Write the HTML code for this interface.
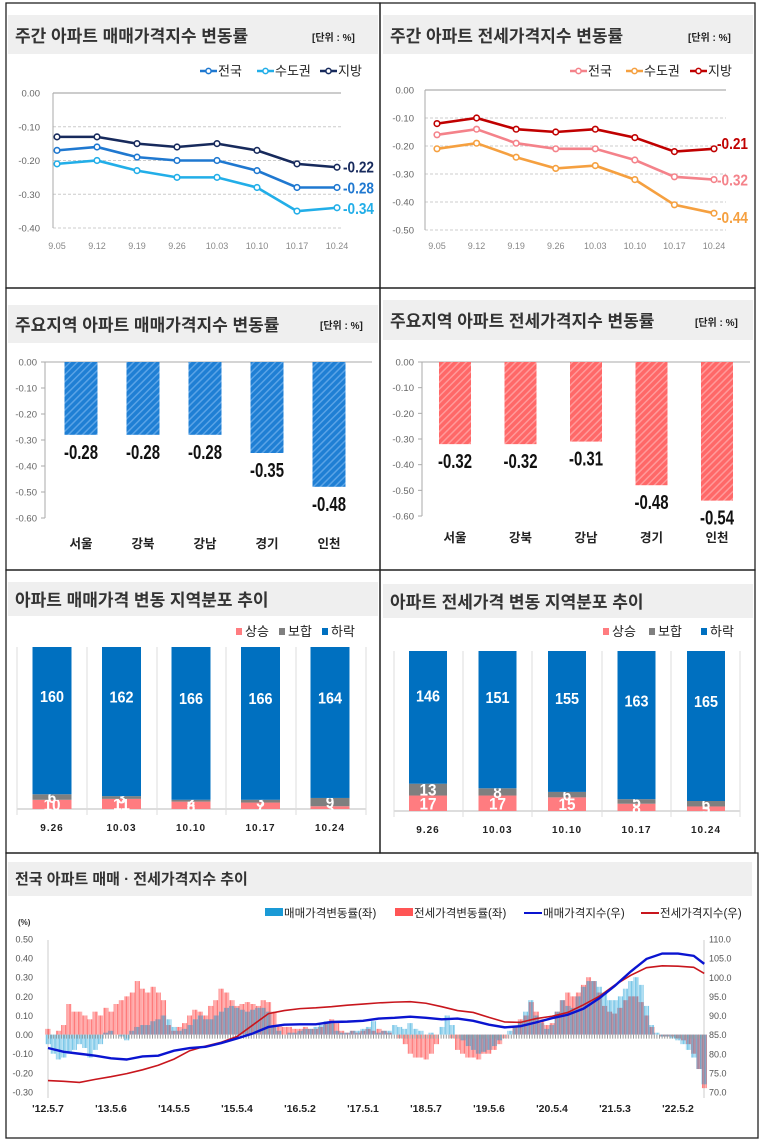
<!DOCTYPE html>
<html><head><meta charset="utf-8">
<style>
html,body{margin:0;padding:0;background:#fff;}
svg{display:block;font-family:"Liberation Sans","Noto Sans CJK KR",sans-serif;}
.t{font-size:17px;fill:#333;font-weight:bold;}
.u{font-size:10px;fill:#222;font-weight:bold;}
.ax{font-size:9.5px;fill:#666;}
.lg{font-size:12px;fill:#222;}
.vl{font-family:"Liberation Sans",sans-serif;font-weight:bold;}
</style></head><body>
<svg id="root" width="761" height="1144" viewBox="0 0 761 1144">
<defs>
<pattern id="hb" width="5" height="5" patternUnits="userSpaceOnUse" patternTransform="rotate(45)"><rect width="5" height="5" fill="#1f7fd4"/><rect width="1.5" height="5" fill="#5aa3e6"/></pattern>
<pattern id="hr" width="5" height="5" patternUnits="userSpaceOnUse" patternTransform="rotate(45)"><rect width="5" height="5" fill="#ff6868"/><rect width="1.5" height="5" fill="#ff9a9a"/></pattern>
<pattern id="sr" width="1.3" height="4" patternUnits="userSpaceOnUse"><rect width="0.8" height="4" fill="rgba(255,70,70,0.85)"/></pattern>
<pattern id="sb" width="1.3" height="4" patternUnits="userSpaceOnUse" x="0.6"><rect width="0.7" height="4" fill="rgba(30,160,215,0.8)"/></pattern>
</defs>
<g fill="none" stroke="#222" stroke-width="1.3">
<rect x="6" y="3" width="374" height="285"/><rect x="380" y="3" width="375" height="285"/>
<rect x="6" y="288" width="374" height="282"/><rect x="380" y="288" width="375" height="282"/>
<rect x="6" y="570" width="374" height="283"/><rect x="380" y="570" width="375" height="283"/>
<rect x="6" y="853" width="752" height="285"/>
</g>
<g fill="#efefef">
<rect x="8" y="15" width="370" height="39"/><rect x="383" y="15" width="370" height="39"/>
<rect x="8" y="305" width="370" height="38"/><rect x="383" y="300" width="370" height="40"/>
<rect x="8" y="582" width="370" height="34"/><rect x="383" y="584" width="370" height="34"/>
<rect x="8" y="862" width="744" height="34"/>
</g>
<text class="t" x="15" y="42">주간 아파트 매매가격지수 변동률</text>
<text class="u" x="312" y="41">[단위 : %]</text>
<text class="t" x="390" y="42">주간 아파트 전세가격지수 변동률</text>
<text class="u" x="688" y="41">[단위 : %]</text>
<text class="t" x="15" y="331">주요지역 아파트 매매가격지수 변동률</text>
<text class="u" x="320" y="329">[단위 : %]</text>
<text class="t" x="390" y="327">주요지역 아파트 전세가격지수 변동률</text>
<text class="u" x="695" y="326">[단위 : %]</text>
<text class="t" x="15" y="606">아파트 매매가격 변동 지역분포 추이</text>
<text class="t" x="390" y="608">아파트 전세가격 변동 지역분포 추이</text>
<text class="t" x="15" y="884" style="font-size:15px">전국 아파트 매매 · 전세가격지수 추이</text>
<g id="c1"></g>
<g id="c2"></g>
<g id="c3"></g>
<g id="c4"></g>
<g id="c5"></g>
<g id="c6"></g>
<g id="c7"></g>
</svg>
<script>
const NS='http://www.w3.org/2000/svg';
const weeks=['9.05','9.12','9.19','9.26','10.03','10.10','10.17','10.24'];
const saleNation=[-0.17,-0.16,-0.19,-0.20,-0.20,-0.23,-0.28,-0.28];
const saleCapital=[-0.21,-0.20,-0.23,-0.25,-0.25,-0.28,-0.35,-0.34];
const saleLocal=[-0.13,-0.13,-0.15,-0.16,-0.15,-0.17,-0.21,-0.22];
const jeonseNation=[-0.16,-0.14,-0.19,-0.21,-0.21,-0.25,-0.31,-0.32];
const jeonseCapital=[-0.21,-0.19,-0.24,-0.28,-0.27,-0.32,-0.41,-0.44];
const jeonseLocal=[-0.12,-0.10,-0.14,-0.15,-0.14,-0.17,-0.22,-0.21];
const ticks1=[0,-0.1,-0.2,-0.3,-0.4];
const ticks2=[0,-0.1,-0.2,-0.3,-0.4,-0.5];
const regions=['서울','강북','강남','경기','인천'];
const regionSale=[-0.28,-0.28,-0.28,-0.35,-0.48];
const regionJeonse=[-0.32,-0.32,-0.31,-0.48,-0.54];
const ticks3=[0,-0.1,-0.2,-0.3,-0.4,-0.5,-0.6];
const distWeeks=['9.26','10.03','10.10','10.17','10.24'];
const saleUp=[10,11,8,7,3];
const saleFlat=[6,3,2,3,9];
const saleDown=[160,162,166,166,164];
const jeonseUp=[17,17,15,8,5];
const jeonseFlat=[13,8,6,5,6];
const jeonseDown=[146,151,155,163,165];
const monthlySaleRate=[
-0.05,-0.10,-0.13,-0.12,-0.10,-0.08,-0.05,-0.07,
-0.12,-0.08,-0.05,0.01,0.02,0.00,-0.01,-0.03,0.02,0.04,0.05,0.05,
0.07,0.08,0.10,0.08,0.04,0.02,0.03,0.05,0.08,0.10,0.08,0.08,
0.10,0.12,0.14,0.15,0.14,0.13,0.12,0.13,0.14,0.14,0.12,0.05,
0.02,0.00,0.01,0.01,0.02,0.03,0.03,0.04,0.05,0.07,0.06,0.02,
0.01,0.01,0.02,0.02,0.03,0.04,0.07,0.01,0.02,0.02,0.05,0.04,
0.03,0.06,0.03,0.02,0.00,0.01,0.00,0.04,0.10,0.05,0.00,-0.03,
-0.06,-0.08,-0.10,-0.09,-0.08,-0.06,-0.03,0.00,0.02,0.04,0.07,0.12,
0.18,0.10,0.06,0.03,0.05,0.12,0.18,0.15,0.14,0.20,0.25,0.28,
0.28,0.25,0.22,0.18,0.18,0.20,0.24,0.28,0.30,0.26,0.15,0.05,
0.01,-0.01,-0.01,-0.02,-0.03,-0.05,-0.08,-0.12,-0.18,-0.26];
const monthlyJeonseRate=[
0.03,0.00,0.02,0.05,0.16,0.12,0.12,0.10,
0.08,0.12,0.10,0.14,0.12,0.16,0.18,0.20,0.22,0.28,0.24,0.22,
0.25,0.22,0.18,0.05,0.02,0.04,0.06,0.10,0.13,0.12,0.10,0.15,
0.18,0.24,0.22,0.18,0.15,0.16,0.17,0.16,0.15,0.18,0.17,0.12,
0.05,0.04,0.04,0.03,0.03,0.04,0.03,0.03,0.04,0.06,0.08,0.06,
0.02,0.01,0.02,0.01,0.02,0.03,0.02,0.03,0.02,0.01,0.00,-0.02,
-0.05,-0.10,-0.12,-0.12,-0.13,-0.10,-0.05,0.00,0.00,-0.02,-0.08,-0.10,
-0.12,-0.12,-0.13,-0.10,-0.10,-0.08,-0.05,-0.02,0.00,0.04,0.08,0.10,
0.17,0.12,0.08,0.05,0.06,0.12,0.18,0.22,0.20,0.22,0.26,0.30,
0.28,0.22,0.15,0.12,0.11,0.14,0.18,0.20,0.20,0.17,0.10,0.04,
0.00,-0.01,-0.01,-0.01,-0.02,-0.03,-0.05,-0.10,-0.18,-0.28];
const indexMonths=[0,3,6,9,12,15,18,21,24,27,30,33,36,39,42,45,48,51,54,57,60,63,66,69,72,75,78,81,84,87,90,93,96,99,102,105,108,111,114,117,120,123,125];
const saleIndex=[81.5,80.5,80.0,79.5,78.8,78.5,79.3,79.5,80.8,81.5,81.8,82.8,84.0,85.3,87.0,87.6,87.7,87.7,88.3,88.4,88.6,89.2,89.4,89.7,89.4,89.0,89.2,88.6,87.6,86.9,87.2,88.2,89.3,90.2,91.8,94.5,97.8,101.5,104.8,106.2,106.2,105.6,103.5];
const jeonseIndex=[73.0,72.8,72.5,73.3,74.0,74.8,75.8,77.0,78.6,80.8,82.0,83.0,84.5,87.5,90.5,91.3,91.8,92.0,92.3,92.7,93.0,93.3,93.5,93.6,93.2,92.3,91.3,90.8,89.5,88.3,88.2,89.2,89.8,90.8,92.8,95.0,98.0,100.5,102.5,103.0,102.9,102.6,101.0];
const leftTicks7=[0.5,0.4,0.3,0.2,0.1,0,-0.1,-0.2,-0.3];
const rightTicks7=[110,105,100,95,90,85,80,75,70];
const xLabels7=["'12.5.7","'13.5.6","'14.5.5","'15.5.4","'16.5.2","'17.5.1","'18.5.7","'19.5.6","'20.5.4","'21.5.3","'22.5.2"];
const xLabelMonths7=[0,12,24,36,48,60,72,84,96,108,120];

function mk(tag,attrs,parent,txt){const e=document.createElementNS(NS,tag);for(const k in attrs)e.setAttribute(k,attrs[k]);if(txt!==undefined)e.textContent=txt;parent.appendChild(e);return e;}
function narrow(t,w){t.setAttribute('textLength',w);t.setAttribute('lengthAdjust','spacingAndGlyphs');}

function lineChart(g,cfg){
  const {x,y,ticks,x0,x1,xl,series,legendX,legendY,lx}=cfg;
  ticks.forEach((t,i)=>{
    const gl=mk('line',{x1:x0,x2:x1,y1:y(t),y2:y(t),stroke:i===0?'#999':'#ccc','stroke-dasharray':i===0?'':'3 2'},g);
    
    
    const tl=mk('text',{x:xl,y:y(t)+3.5,'text-anchor':'end',class:'ax'},g,t.toFixed(2).replace('-0.00','0.00'));
    
    
  });
  const ya=mk('line',{x1:x0,x2:x0,y1:y(0),y2:y(ticks[ticks.length-1]),stroke:'#aaa'},g);
  
  
  weeks.forEach((w,i)=>{
    const t=mk('text',{x:x(i),y:cfg.xlY,'text-anchor':'middle',class:'ax',style:'font-size:9px;fill:#888'},g,w);
    
    
  });
  series.forEach((s,k)=>{
    const pts=s.data.map((v,i)=>x(i)+','+y(v)).join(' ');
    const pl=mk('polyline',{points:pts,fill:'none',stroke:s.color,'stroke-width':2.6},g);
    
    
    s.data.forEach((v,i)=>{
      const c=mk('circle',{cx:x(i),cy:y(v),r:2.8,fill:'#fff',stroke:s.color,'stroke-width':1.6},g);
      
      
    });
    const last=s.data[s.data.length-1];
    const el=mk('text',{x:lx,y:y(last)+s.dy,class:'vl',style:'font-size:16px',fill:s.color},g,last.toFixed(2));
    narrow(el,31);
    
    
    const lg=mk('g',{},g);
    
    
    const ly=legendY, lxx=legendX[k];
    mk('line',{x1:lxx,x2:lxx+17,y1:ly,y2:ly,stroke:s.color,'stroke-width':2.6},lg);
    mk('circle',{cx:lxx+8.5,cy:ly,r:2.6,fill:'#fff',stroke:s.color,'stroke-width':1.5},lg);
    mk('text',{x:lxx+18,y:ly+4.5,class:'lg',style:'font-size:13px'},lg,s.name);
  });
}
const x1f=i=>57+i*40, y1f=v=>93-v*337.5;
lineChart(document.getElementById('c1'),{x:x1f,y:y1f,ticks:ticks1,x0:53,x1:341,xl:40,xlY:249,lx:343,legendX:[200,257,320],legendY:71,
 series:[{id:'nation',name:'전국',data:saleNation,color:'#1f78d0',dy:6},{id:'capital',name:'수도권',data:saleCapital,color:'#22aee8',dy:6},{id:'local',name:'지방',data:saleLocal,color:'#172a5c',dy:5}]});
const x2f=i=>437+i*39.57, y2f=v=>90-v*280;
lineChart(document.getElementById('c2'),{x:x2f,y:y2f,ticks:ticks2,x0:425,x1:726,xl:414,xlY:249,lx:717,legendX:[570,626,690],legendY:71,
 series:[{id:'nation',name:'전국',data:jeonseNation,color:'#f4828a',dy:6},{id:'capital',name:'수도권',data:jeonseCapital,color:'#f5a040',dy:10},{id:'local',name:'지방',data:jeonseLocal,color:'#c00000',dy:0}]});

function barChart(g,cfg){
  const {xc,y,vals,fill,x0,x1,xl,bw}=cfg;
  ticks3.forEach((t,i)=>{
    const tl=mk('text',{x:xl,y:y(t)+3.5,'text-anchor':'end',class:'ax'},g,t.toFixed(2).replace('-0.00','0.00'));
    
    
    const tk=mk('line',{x1:x0-4,x2:x0,y1:y(t),y2:y(t),stroke:'#aaa'},g);
    
    
  });
  const za=mk('line',{x1:x0,x2:x1,y1:y(0),y2:y(0),stroke:'#aaa'},g);
  
  
  const ya=mk('line',{x1:x0,x2:x0,y1:y(0),y2:y(-0.6),stroke:'#aaa'},g);
  
  
  vals.forEach((v,i)=>{
    const r=mk('rect',{x:xc(i)-bw/2,y:y(0),width:bw,height:y(v)-y(0),fill:fill},g);
    
    
    const vt=mk('text',{x:xc(i),y:y(v)+24,'text-anchor':'middle',class:'vl',style:'font-size:20px',fill:'#111'},g,v.toFixed(2));
    narrow(vt,34);
    
    
    const ct=mk('text',{x:xc(i),y:cfg.catY,'text-anchor':'middle',style:'font-size:12.5px;font-weight:bold',fill:'#222'},g,regions[i]);
    
    
  });
}
barChart(document.getElementById('c3'),{xc:i=>81+i*62,y:v=>362-v*260,vals:regionSale,fill:'url(#hb)',x0:45,x1:372,xl:37,bw:33,catY:548});
barChart(document.getElementById('c4'),{xc:i=>455+i*65.5,y:v=>362-v*256.7,vals:regionJeonse,fill:'url(#hr)',x0:422,x1:750,xl:414,bw:32,catY:542});

function stackChart(g,cfg){
  const {xc,base,k,up,flat,down,bw,sep,legX,legY,top}=cfg;
  const bl=mk('line',{x1:sep[0],x2:sep[sep.length-1],y1:base,y2:base,stroke:'#bbb'},g);
  
  
  sep.forEach(s=>{
    const l=mk('line',{x1:s,x2:s,y1:top,y2:base+6,stroke:'#ddd'},g);
    
    
  });
  const cols=['#ff7c80','#7f7f7f','#0070c0'];
  distWeeks.forEach((w,i)=>{
    const vals=[up[i],flat[i],down[i]];
    let cur=base;
    vals.forEach((v,j)=>{
      const h=v*k;
      const r=mk('rect',{x:xc(i)-bw/2,y:cur-h,width:bw,height:h,fill:cols[j]},g);
      
      
      const ty=j===2?cur-h+Math.min(h*0.32,50)+8:cur-h/2+6;
      const t=mk('text',{x:xc(i),y:ty,'text-anchor':'middle',class:'vl',style:'font-size:'+(j===2?16:17)+'px',fill:'#fff'},g,v);
      narrow(t,String(v).length*(j===2?8:8.5));
      
      
      cur-=h;
    });
    const xt=mk('text',{x:xc(i),y:base+22,'text-anchor':'middle',style:'font-size:10px;font-weight:bold;letter-spacing:1px',fill:'#222'},g,w);
    
    
  });
  ['상승','보합','하락'].forEach((n,j)=>{
    const lg=mk('g',{},g);
    
    
    mk('rect',{x:legX[j],y:legY-8,width:6,height:7,fill:cols[j]},lg);
    mk('text',{x:legX[j]+9,y:legY,class:'lg',style:'font-size:13px'},lg,n);
  });
}
stackChart(document.getElementById('c5'),{xc:i=>52+i*69.5,base:809,k:162/176,up:saleUp,flat:saleFlat,down:saleDown,bw:39,sep:[17,87,157,226,296,366],legX:[236,279,322],legY:636,top:647});
stackChart(document.getElementById('c6'),{xc:i=>428+i*69.5,base:811,k:160/176,up:jeonseUp,flat:jeonseFlat,down:jeonseDown,bw:38,sep:[394,463,532,602,671,740],legX:[603,649,701],legY:636,top:651});

(function(){
  const g=document.getElementById('c7');
  const xm=i=>48+i*5.25, yl=v=>1034.6-v*191.25, yr=v=>1092-(v-70)*3.825;
  leftTicks7.forEach(t=>{
    const a=mk('text',{x:33,y:yl(t)+3.5,'text-anchor':'end',class:'ax',style:'font-size:9px;fill:#555'},g,t.toFixed(2));
    
    
  });
  rightTicks7.forEach(t=>{
    const a=mk('text',{x:709,y:yr(t)+3.5,class:'ax',style:'font-size:9px;fill:#555'},g,t.toFixed(1));
    
    
  });
  const u=mk('text',{x:18,y:925,style:'font-size:8px;font-weight:bold',fill:'#333'},g,'(%)');
  
  
  const la=mk('line',{x1:48,x2:48,y1:940,y2:1098,stroke:'#ccc'},g);
  
  
  const ra=mk('line',{x1:704,x2:704,y1:940,y2:1098,stroke:'#ccc'},g);
  
  
  monthlyJeonseRate.forEach((v,i)=>{
    const r=mk('rect',{x:xm(i)-2.63,y:Math.min(yl(v),yl(0)),width:5.26,height:Math.abs(yl(v)-yl(0)),fill:'url(#sr)'},g);
    
    
  });
  monthlySaleRate.forEach((v,i)=>{
    const r=mk('rect',{x:xm(i)-2.63,y:Math.min(yl(v),yl(0)),width:5.26,height:Math.abs(yl(v)-yl(0)),fill:'url(#sb)'},g);
    
    
  });
  const zb=mk('line',{x1:48,x2:704,y1:yl(0)+2,y2:yl(0)+2,stroke:'#999','stroke-width':4,'stroke-dasharray':'1 1.6'},g);
  
  
  const jp=mk('polyline',{points:indexMonths.map((m,i)=>xm(m)+','+yr(jeonseIndex[i])).join(' '),fill:'none',stroke:'#c8161d','stroke-width':1.6},g);
  
  
  const sp=mk('polyline',{points:indexMonths.map((m,i)=>xm(m)+','+yr(saleIndex[i])).join(' '),fill:'none',stroke:'#0a14d0','stroke-width':2.4},g);
  
  
  xLabels7.forEach((l,i)=>{
    const t=mk('text',{x:xm(xLabelMonths7[i]),y:1112,'text-anchor':'middle',style:'font-size:10.5px;font-weight:bold',fill:'#222'},g,l);
    
    
  });
  const leg=[['rect','#1a9ad6','매매가격변동률(좌)',265],['rect','#ff5555','전세가격변동률(좌)',395],['line','#0a14d0','매매가격지수(우)',524],['line','#c8161d','전세가격지수(우)',641]];
  leg.forEach(L=>{
    const lg=mk('g',{},g);
    
    
    if(L[0]==='rect') mk('rect',{x:L[3],y:908,width:18,height:8,fill:L[1]},lg);
    else mk('line',{x1:L[3],x2:L[3]+18,y1:913,y2:913,stroke:L[1],'stroke-width':2},lg);
    mk('text',{x:L[3]+19,y:917,style:'font-size:11.5px',fill:'#222'},lg,L[2]);
  });
})();
</script>
</body></html>
